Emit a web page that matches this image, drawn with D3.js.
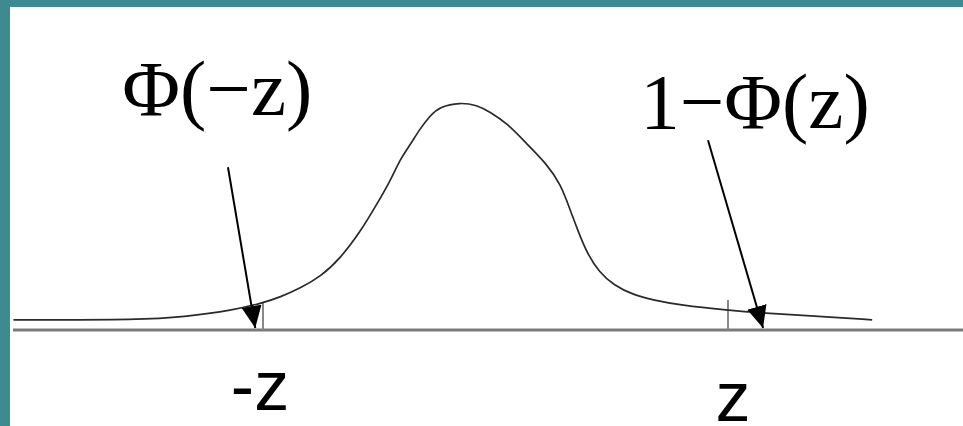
<!DOCTYPE html>
<html>
<head>
<meta charset="utf-8">
<script src="https://cdn.jsdelivr.net/npm/d3@7"></script>
<style>
  body { margin: 0; background: #fff; }
  svg { display: block; }
  .alabel { font-family: "Liberation Serif", "Times New Roman", Times, serif; }
  .zlabel { font-family: "Liberation Sans", Arial, Helvetica, sans-serif; }
</style>
</head>
<body>
<div id="chart"></div>
<script>
// Curva de densidad (x en unidades de z, y = densidad)
const curveX = [-3.11, -2.27, -2.02, -1.69, -1.5, -1.39, -1.26, -1.13, -1.0, -0.87, -0.78, -0.68,
                -0.62, -0.55, -0.49, -0.42, -0.36, -0.23, -0.12, -0.035, 0.074, 0.2, 0.33, 0.42,
                0.48, 0.53, 0.59, 0.67, 0.76, 0.89, 1.02, 1.19, 1.5, 1.73, 2.05, 2.43];
const curveY = [0.018, 0.018, 0.023, 0.035, 0.048, 0.058, 0.074, 0.094, 0.127, 0.175, 0.216, 0.263,
                0.300, 0.328, 0.355, 0.38, 0.395, 0.403, 0.398, 0.386, 0.366, 0.33, 0.294, 0.258,
                0.214, 0.177, 0.136, 0.102, 0.08, 0.062, 0.053, 0.044, 0.035, 0.03, 0.025, 0.018];

// Marcas del eje
const zTicks = [-1.5, 1.5];
const zTickTops = [0.048, 0.053];
const zTickLabels = ["-z", "z"];

// Flechas con etiquetas
const arrowLabels = ["Φ(−z)", "1−Φ(z)"];
const arrowFrom = [[-1.726, 0.288], [1.371, 0.336]];
const arrowTo = [[-1.55, 0.0035], [1.726, 0.0035]];
const labelAt = [[-1.795, 0.381], [1.674, 0.358]];

const width = 963, height = 426;

const x = d3.scaleLinear().domain([-3, 3]).range([30.5, 960.5]);
const y = d3.scaleLinear().domain([0, 0.4]).range([330, 104]);

const svg = d3.select("#chart").append("svg")
    .attr("width", width)
    .attr("height", height);

// Marco verde azulado
svg.append("rect").attr("x", 0).attr("y", 0).attr("width", 10).attr("height", height).attr("fill", "#3d8b91");
svg.append("rect").attr("x", 0).attr("y", 0).attr("width", width).attr("height", 7).attr("fill", "#3d8b91");

// Punta de flecha
svg.append("defs").append("marker")
    .attr("id", "head")
    .attr("markerUnits", "userSpaceOnUse")
    .attr("viewBox", "0 -11 22 22")
    .attr("markerWidth", 22)
    .attr("markerHeight", 22)
    .attr("refX", 22)
    .attr("refY", 0)
    .attr("orient", "auto")
    .append("path")
    .attr("d", "M0,-10L22,0L0,10Z")
    .attr("fill", "#000");

// Eje horizontal
svg.append("line")
    .attr("x1", 13).attr("x2", width)
    .attr("y1", y(0)).attr("y2", y(0))
    .attr("stroke", "#7a7a7a")
    .attr("stroke-width", 3);

// Marcas -z y z
svg.selectAll(".tick")
    .data(zTicks)
    .enter().append("line")
    .attr("class", "tick")
    .attr("x1", d => x(d)).attr("x2", d => x(d))
    .attr("y1", (d, i) => y(zTickTops[i])).attr("y2", y(0))
    .attr("stroke", "#888")
    .attr("stroke-width", 2);

// Curva
const line = d3.line()
    .x((d, i) => x(curveX[i]))
    .y(d => y(d))
    .curve(d3.curveBasis);

svg.append("path")
    .datum(curveY)
    .attr("d", line)
    .attr("fill", "none")
    .attr("stroke", "#2a2a2a")
    .attr("stroke-width", 1.7);

// Flechas
svg.selectAll(".arrow")
    .data(arrowFrom)
    .enter().append("line")
    .attr("class", "arrow")
    .attr("x1", d => x(d[0])).attr("y1", d => y(d[1]))
    .attr("x2", (d, i) => x(arrowTo[i][0])).attr("y2", (d, i) => y(arrowTo[i][1]))
    .attr("stroke", "#000")
    .attr("stroke-width", 2)
    .attr("marker-end", "url(#head)");

// Etiquetas de las flechas
svg.selectAll(".alabel")
    .data(arrowLabels)
    .enter().append("text")
    .attr("class", "alabel")
    .attr("x", (d, i) => x(labelAt[i][0]))
    .attr("y", (d, i) => y(labelAt[i][1]))
    .attr("text-anchor", "middle")
    .style("font-size", "79px")
    .style("fill", "#000")
    .text(d => d);

// Etiquetas del eje
svg.selectAll(".zlabel")
    .data(zTickLabels)
    .enter().append("text")
    .attr("class", "zlabel")
    .attr("x", (d, i) => x(zTicks[i]) + (i === 0 ? -3 : 5))
    .attr("y", (d, i) => y(0) + (i === 0 ? 80 : 91))
    .attr("text-anchor", "middle")
    .style("font-size", "70px")
    .style("fill", "#000")
    .text(d => d);
</script>
</body>
</html>
